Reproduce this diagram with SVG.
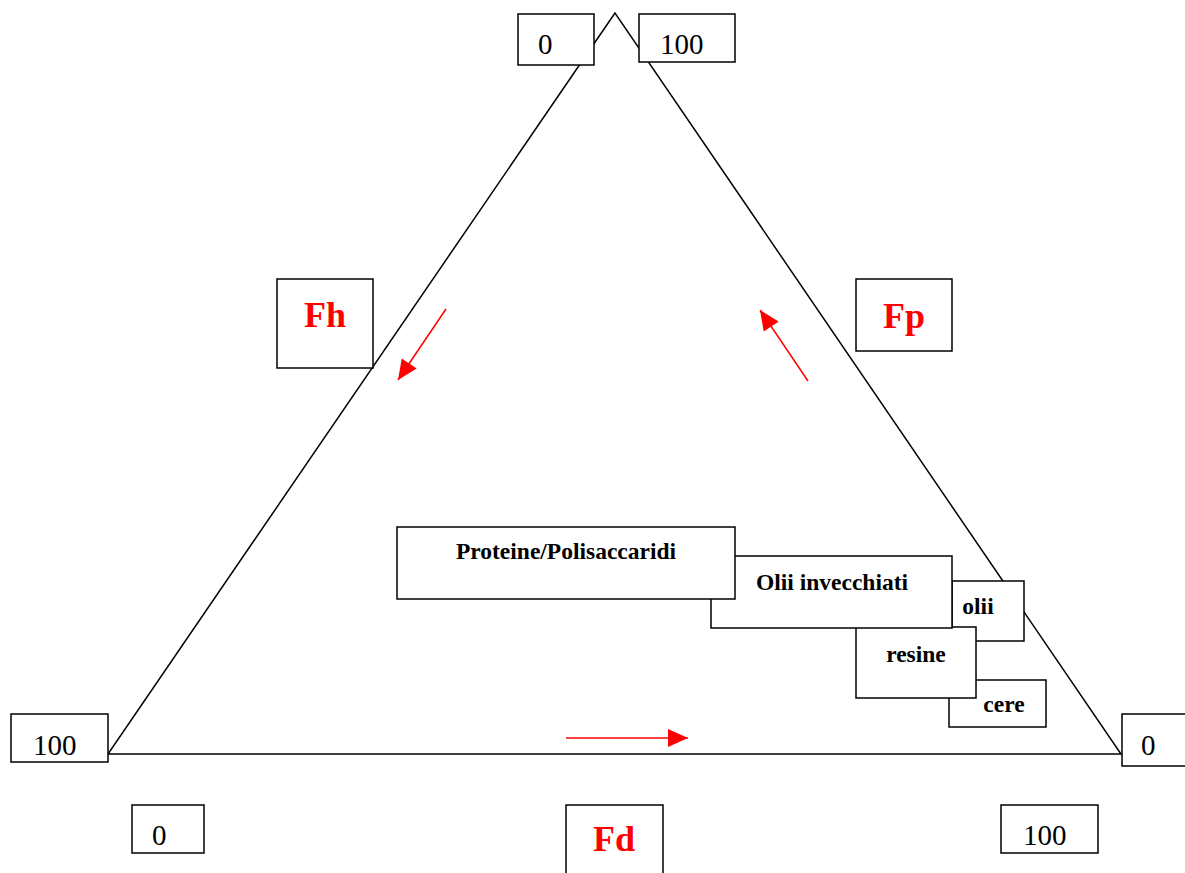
<svg xmlns="http://www.w3.org/2000/svg" width="1185" height="873" viewBox="0 0 1185 873">
<style>
.b{fill:#fff;stroke:#000;stroke-width:1.5}
.n{font-family:"Liberation Serif",serif;font-size:29px;fill:#000}
.t{font-family:"Liberation Serif",serif;font-size:23.5px;font-weight:bold;fill:#000;text-anchor:middle}
.f{font-family:"Liberation Serif",serif;font-size:36px;font-weight:bold;fill:#f00;text-anchor:middle}
</style>
<defs>
<marker id="ah2" viewBox="0 0 20 18" refX="20" refY="9" markerWidth="22" markerHeight="18" markerUnits="userSpaceOnUse" orient="auto">
<path d="M0,0 L20,9 L0,18 Z" fill="#f00"/>
</marker>
</defs>
<rect width="1185" height="873" fill="#fff"/>
<g id="connectors">
<path id="triangle" d="M615,13 L108,754 L1121,754 Z" fill="none" stroke="#000" stroke-width="1.5"/>
<line x1="446" y1="309" x2="398" y2="380" stroke="#f00" stroke-width="1.5" marker-end="url(#ah2)"/>
<line x1="808" y1="381" x2="760" y2="310" stroke="#f00" stroke-width="1.5" marker-end="url(#ah2)"/>
<line x1="566" y1="738" x2="688" y2="738" stroke="#f00" stroke-width="1.5" marker-end="url(#ah2)"/>
</g>
<g id="top0"><rect class="b" x="518" y="14" width="76" height="51"/><text class="n" x="538" y="54">0</text></g>
<g id="top100"><rect class="b" x="639" y="14" width="96" height="48"/><text class="n" x="660" y="54">100</text></g>
<g id="left100"><rect class="b" x="11" y="714" width="97" height="48"/><text class="n" x="33" y="755">100</text></g>
<g id="right0"><rect class="b" x="1122" y="714" width="70" height="52"/><text class="n" x="1141" y="755">0</text></g>
<g id="bot0"><rect class="b" x="132" y="805" width="72" height="48"/><text class="n" x="152" y="845">0</text></g>
<g id="bot100"><rect class="b" x="1001" y="805" width="97" height="48"/><text class="n" x="1023" y="845">100</text></g>
<g id="Fh"><rect class="b" x="277" y="279" width="96" height="89"/><text class="f" x="325" y="327">Fh</text></g>
<g id="Fp"><rect class="b" x="856" y="279" width="96" height="72"/><text class="f" x="904" y="328">Fp</text></g>
<g id="Fd"><rect class="b" x="566" y="805" width="97" height="80"/><text class="f" x="614" y="851">Fd</text></g>
<g id="cere"><rect class="b" x="949" y="680" width="97" height="47"/><text class="t" x="1004" y="712">cere</text></g>
<g id="olii"><rect class="b" x="952" y="581" width="72" height="60"/><text class="t" x="978" y="614">olii</text></g>
<g id="resine"><rect class="b" x="856" y="627" width="120" height="71"/><text class="t" x="916" y="662">resine</text></g>
<g id="oliiInvecchiati"><rect class="b" x="711" y="556" width="241" height="72"/><text class="t" x="832" y="590">Olii invecchiati</text></g>
<g id="proteine"><rect class="b" x="397" y="527" width="338" height="72"/><text class="t" x="566" y="559">Proteine/Polisaccaridi</text></g>
</svg>
